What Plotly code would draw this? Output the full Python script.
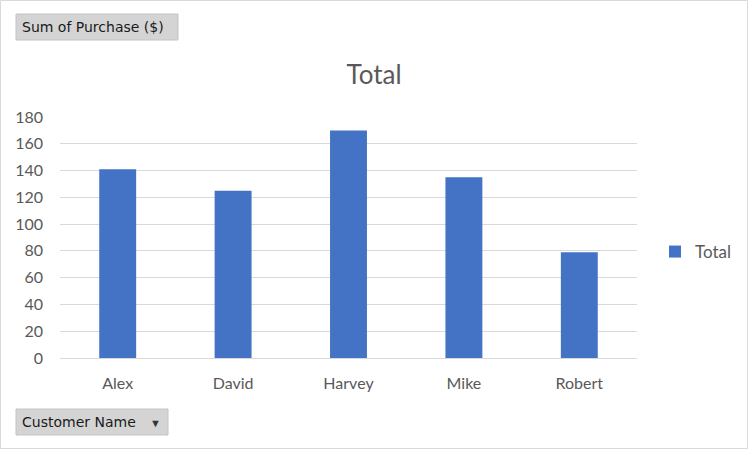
import plotly.graph_objects as go

customers = ["Alex", "David", "Harvey", "Mike", "Robert"]
purchase_totals = [141, 125, 170, 135, 79]
y_ticks = [0, 20, 40, 60, 80, 100, 120, 140, 160, 180]

W, H = 748, 449
L, R, T, B = 60, 111, 117, 91
PW, PH = W - L - R, H - T - B


def px_x(x):
    return (x - L) / PW


def px_y(y):
    return (H - B - y) / PH


fig = go.Figure()

fig.add_trace(
    go.Bar(
        x=customers,
        y=purchase_totals,
        name="Total",
        marker=dict(color="#4472c4", line_width=0),
        showlegend=True,
    )
)

shapes = [
    # outer chart border
    dict(type="rect", xref="paper", yref="paper",
         x0=px_x(0.5), x1=px_x(W - 0.5), y0=px_y(H - 0.5), y1=px_y(0.5),
         line=dict(color="#d9d9d9", width=1), layer="below"),
    # field buttons
    dict(type="rect", xref="paper", yref="paper",
         x0=px_x(16), x1=px_x(178), y0=px_y(40), y1=px_y(14),
         fillcolor="#d4d4d4", line=dict(color="#c4c4c4", width=1)),
    dict(type="rect", xref="paper", yref="paper",
         x0=px_x(16), x1=px_x(168), y0=px_y(435), y1=px_y(409),
         fillcolor="#d4d4d4", line=dict(color="#c4c4c4", width=1)),
]

btn_font = dict(family="DejaVu Sans, sans-serif", size=14, color="#1a1a1a")

annotations = [
    dict(text="Sum of Purchase ($)", xref="paper", yref="paper",
         x=px_x(20), y=px_y(27), xanchor="left", yanchor="middle",
         showarrow=False, font=btn_font),
    dict(text="Customer Name", xref="paper", yref="paper",
         x=px_x(20), y=px_y(422), xanchor="left", yanchor="middle",
         showarrow=False, font=btn_font),
    dict(text="▼", xref="paper", yref="paper",
         x=px_x(155), y=px_y(422), xanchor="center", yanchor="middle",
         showarrow=False, font=dict(size=11, color="#333333")),
]

fig.update_layout(
    width=W,
    height=H,
    margin=dict(l=L, r=R, t=T, b=B, autoexpand=False),
    paper_bgcolor="white",
    plot_bgcolor="white",
    font=dict(family="Lato, Carlito, sans-serif", color="#595959", size=16),
    title=dict(
        text="Total",
        font=dict(size=26, color="#595959"),
        x=0.5,
        xref="container",
        xanchor="center",
        y=1 - 75 / H,
        yanchor="middle",
    ),
    bargap=0.68,
    xaxis=dict(
        showgrid=False,
        showline=True,
        linecolor="#d9d9d9",
        linewidth=1,
        ticks="",
        ticklabelstandoff=11,
        tickfont=dict(size=16, color="#595959"),
        fixedrange=True,
    ),
    yaxis=dict(
        range=[0, 180],
        tickvals=y_ticks,
        showgrid=True,
        gridcolor="#d9d9d9",
        gridwidth=1,
        zeroline=False,
        showline=False,
        ticks="",
        ticklabelstandoff=16,
        tickfont=dict(size=16, color="#595959"),
        fixedrange=True,
    ),
    legend=dict(
        x=px_x(655),
        y=px_y(252),
        xanchor="left",
        yanchor="middle",
        font=dict(size=17, color="#595959"),
        itemwidth=30,
        bgcolor="rgba(0,0,0,0)",
    ),
    shapes=shapes,
    annotations=annotations,
)

fig.write_html(
    "out.html",
    config=dict(displayModeBar=False),
    post_script="document.body.style.margin='0';",
)
